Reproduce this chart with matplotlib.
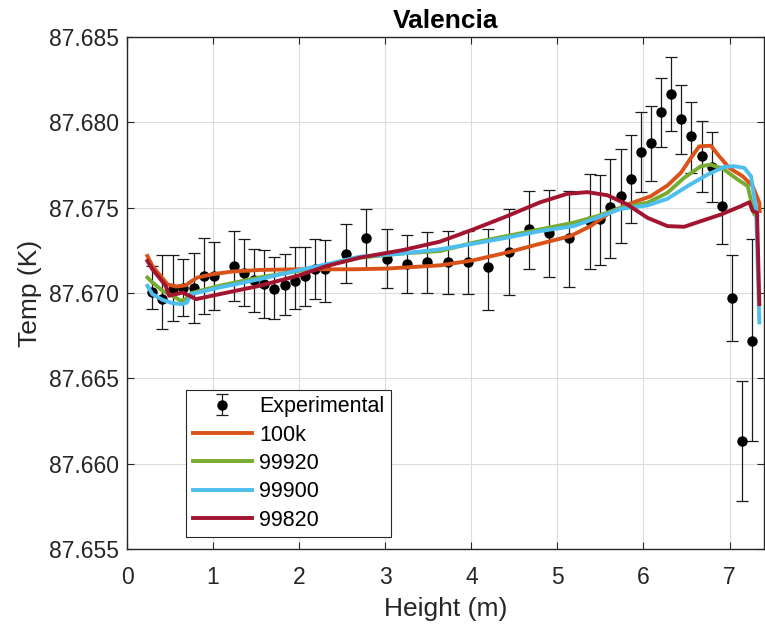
import matplotlib.pyplot as plt
import numpy as np

plt.rcParams['font.family'] = ['Liberation Sans', 'DejaVu Sans']

# experimental points (height, temp, upper, lower)
exp_h = [0.295, 0.41, 0.54, 0.656, 0.773, 0.897, 1.014, 1.247, 1.364, 1.480, 1.597, 1.713,
         1.830, 1.946, 2.071, 2.188, 2.304, 2.541, 2.774, 3.015, 3.248, 3.489, 3.733, 3.966,
         4.199, 4.433, 4.666, 4.899, 5.140, 5.377, 5.493, 5.610, 5.734, 5.851, 5.967, 6.084,
         6.200, 6.317, 6.434, 6.550, 6.674, 6.791, 6.911, 7.028, 7.145, 7.261]
exp_t = [87.67003, 87.66964, 87.67026, 87.67032, 87.67032, 87.67100, 87.67100, 87.67158,
         87.67120, 87.67077, 87.67051, 87.67026, 87.67045, 87.67070, 87.67100, 87.67143,
         87.67139, 87.67231, 87.67320, 87.67197, 87.67168, 87.67182, 87.67184, 87.67182,
         87.67153, 87.67240, 87.67373, 87.67349, 87.67320, 87.67421, 87.67435, 87.67503,
         87.67571, 87.67669, 87.67828, 87.67879, 87.68058, 87.68167, 87.68019, 87.67918,
         87.67801, 87.67737, 87.67509, 87.66971, 87.66133, 87.66720]
exp_hi = [87.67158, 87.67225, 87.67221, 87.67198, 87.67237, 87.67324, 87.67301, 87.67363,
          87.67314, 87.67256, 87.67250, 87.67211, 87.67227, 87.67272, 87.67272, 87.67318,
          87.67310, 87.67402, 87.67494, 87.67373, 87.67339, 87.67359, 87.67363, 87.67363,
          87.67377, 87.67490, 87.67599, 87.67602, 87.67599, 87.67700, 87.67692, 87.67787,
          87.67846, 87.67923, 87.68062, 87.68097, 87.68259, 87.68381, 87.68220, 87.68122,
          87.68005, 87.67941, 87.67743, 87.67221, 87.66487, 87.67314]
exp_lo = [87.66905, 87.66789, 87.66837, 87.66863, 87.66824, 87.66876, 87.66901, 87.66954,
          87.66925, 87.66886, 87.66851, 87.66847, 87.66872, 87.66909, 87.66925, 87.66964,
          87.66948, 87.67057, 87.67145, 87.67028, 87.66999, 87.66999, 87.66993, 87.66997,
          87.66900, 87.66987, 87.67143, 87.67096, 87.67038, 87.67139, 87.67162, 87.67207,
          87.67295, 87.67412, 87.67590, 87.67659, 87.67853, 87.67951, 87.67815, 87.67704,
          87.67590, 87.67532, 87.67285, 87.66720, 87.65782, 87.66130]

# simulated profiles
h_100k = [0.237, 0.295, 0.373, 0.470, 0.567, 0.684, 0.742, 0.820, 0.995, 1.228, 1.538, 2.005,
          2.626, 3.015, 3.636, 4.025, 4.413, 4.802, 5.152, 5.385, 5.618, 5.851, 6.084, 6.278,
          6.434, 6.550, 6.647, 6.783, 6.880, 6.997, 7.152, 7.269, 7.346, 7.350]
t_100k = [87.67217, 87.67158, 87.67110, 87.67051, 87.67038, 87.67045, 87.67067, 87.67091,
          87.67110, 87.67126, 87.67135, 87.67139, 87.67139, 87.67143, 87.67162, 87.67192,
          87.67237, 87.67289, 87.67334, 87.67392, 87.67474, 87.67525, 87.67567, 87.67630,
          87.67704, 87.67791, 87.67859, 87.67863, 87.67801, 87.67733, 87.67684, 87.67626,
          87.67529, 87.67480]

h_99920 = [0.237, 0.295, 0.412, 0.528, 0.626, 0.684, 0.742, 1.072, 1.538, 2.005, 2.316, 2.704,
           3.209, 3.636, 4.025, 4.413, 4.802, 5.190, 5.462, 5.734, 6.045, 6.278, 6.472, 6.667,
           6.783, 6.938, 7.094, 7.211, 7.288, 7.320]
t_99920 = [87.67091, 87.67062, 87.67013, 87.66984, 87.66954, 87.66964, 87.66999, 87.67042,
           87.67091, 87.67130, 87.67162, 87.67207, 87.67232, 87.67246, 87.67295, 87.67334,
           87.67373, 87.67412, 87.67450, 87.67499, 87.67529, 87.67587, 87.67675, 87.67743,
           87.67752, 87.67723, 87.67665, 87.67626, 87.67460, 87.67450]

h_99900 = [0.237, 0.295, 0.412, 0.528, 0.645, 0.696, 0.742, 1.072, 1.538, 2.005, 2.316, 2.704,
           3.209, 3.636, 4.025, 4.413, 4.802, 5.190, 5.462, 5.734, 6.045, 6.278, 6.511, 6.745,
           6.938, 7.054, 7.171, 7.249, 7.308, 7.346]
t_99900 = [87.67042, 87.66993, 87.66960, 87.66940, 87.66935, 87.66944, 87.66993, 87.67032,
           87.67081, 87.67135, 87.67168, 87.67213, 87.67232, 87.67256, 87.67289, 87.67324,
           87.67363, 87.67392, 87.67441, 87.67493, 87.67513, 87.67552, 87.67626, 87.67694,
           87.67739, 87.67743, 87.67733, 87.67684, 87.67490, 87.66828]

h_99820 = [0.237, 0.295, 0.373, 0.450, 0.490, 0.567, 0.645, 0.723, 0.801, 1.072, 1.538, 2.005,
           2.316, 2.704, 3.209, 3.636, 4.025, 4.413, 4.802, 5.113, 5.346, 5.579, 5.812, 6.045,
           6.278, 6.472, 6.667, 6.900, 7.133, 7.230, 7.269, 7.319, 7.346]
t_99820 = [87.67188, 87.67139, 87.67091, 87.67042, 87.66984, 87.66993, 87.67003, 87.66984,
           87.66964, 87.66993, 87.67042, 87.67104, 87.67158, 87.67207, 87.67252, 87.67301,
           87.67373, 87.67450, 87.67532, 87.67581, 87.67591, 87.67573, 87.67519, 87.67441,
           87.67392, 87.67388, 87.67421, 87.67460, 87.67509, 87.67532, 87.67480, 87.67470,
           87.66935]

fig = plt.figure(figsize=(7.65, 6.28), dpi=100)
ax = fig.add_axes([127/765, 79/628, 637/765, 512/628])

exp_t = np.array(exp_t)
yerr = [exp_t - np.array(exp_lo), np.array(exp_hi) - exp_t]
eb = ax.errorbar(exp_h, exp_t, yerr=yerr, fmt='o', color='black', ecolor='#1a1a1a',
                 elinewidth=0.9, capsize=4.5, capthick=0.9, markersize=6.5, zorder=3)

l1, = ax.plot(h_100k, t_100k, color='#D95319', lw=2.8, zorder=4)
l2, = ax.plot(h_99920, t_99920, color='#77AC30', lw=2.8, zorder=4)
l3, = ax.plot(h_99900, t_99900, color='#4DBEEE', lw=2.8, zorder=4)
l4, = ax.plot(h_99820, t_99820, color='#A2142F', lw=2.8, zorder=4)

ax.set_xlim(0, 7.4)
ax.set_ylim(87.655, 87.685)
ax.set_xticks(np.arange(0, 8, 1))
ax.set_yticks(np.arange(87.655, 87.6851, 0.005))
ax.yaxis.set_major_formatter(plt.FormatStrFormatter('%.3f'))
ax.tick_params(direction='in', top=True, right=True, length=5, width=0.8,
               labelsize=16.5, colors='#262626', labelcolor='#262626')
ax.tick_params(axis='x', pad=12)
ax.tick_params(axis='y', pad=6)
ax.grid(True, color='#dcdcdc', lw=0.8)
ax.set_axisbelow(True)
for s in ax.spines.values():
    s.set_color('#262626')
    s.set_linewidth(1.0)

ax.set_xlabel('Height (m)', fontsize=19, color='#262626', labelpad=6)
ax.set_ylabel('Temp (K)', fontsize=19, color='#262626', labelpad=5)
ax.set_title('Valencia', fontsize=19, fontweight='bold', pad=6.5)

leg = ax.legend([eb, l1, l2, l3, l4], ['Experimental', '100k', '99920', '99900', '99820'],
                loc='upper left', bbox_to_anchor=(0.093, 0.311),
                fontsize=15.5, fancybox=False, edgecolor='#262626', framealpha=1,
                handlelength=2.75, borderaxespad=0, borderpad=0.3, labelspacing=0.34,
                handletextpad=0.35)
leg.get_frame().set_linewidth(0.8)

fig.savefig('out.png', dpi=100)
